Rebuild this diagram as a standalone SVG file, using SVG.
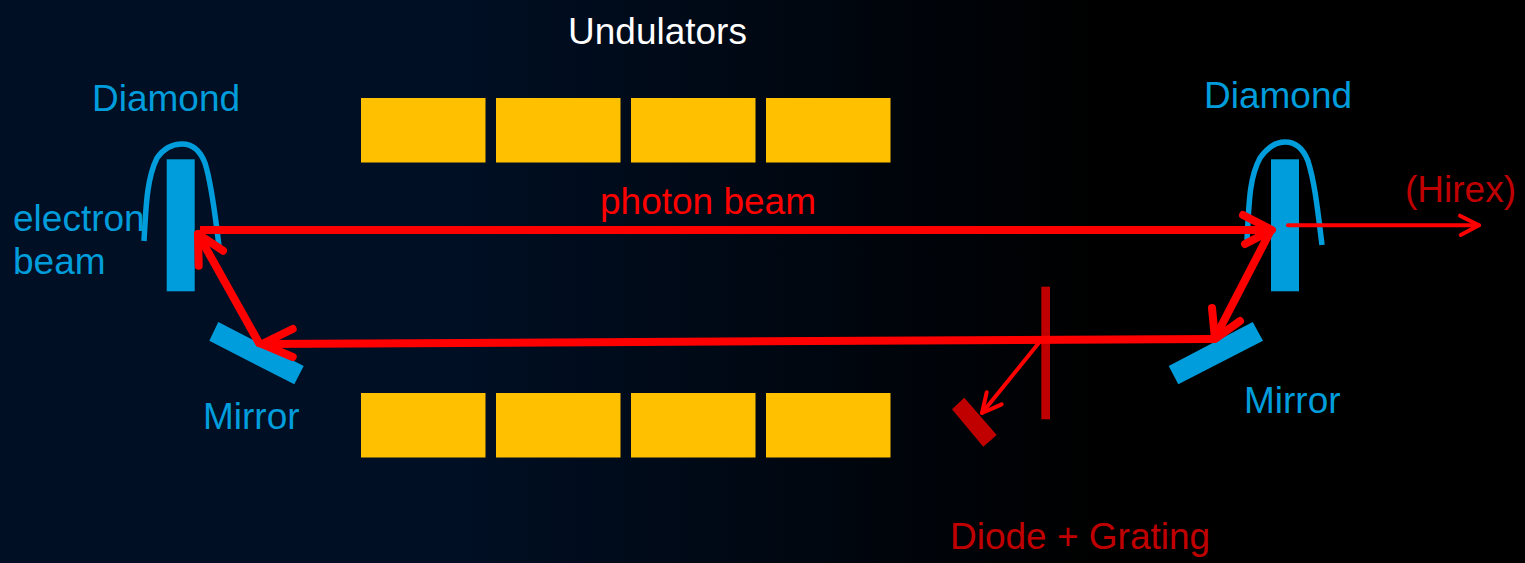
<svg xmlns="http://www.w3.org/2000/svg" width="1525" height="563" viewBox="0 0 1525 563">
<style>
text{font-family:"Liberation Sans",Arial,sans-serif;font-size:37px}
.blue{fill:#009ddc}
.white{fill:#ffffff}
.red{fill:#ff0000}
.dark{fill:#c00000}
.und{fill:#ffc000}
.curve{fill:none;stroke:#009ddc;stroke-width:5.5}
.beam{fill:none;stroke:#ff0000;stroke-linecap:round;stroke-linejoin:round}
.thick{stroke-width:8}
.thin{stroke-width:4}
</style>
<defs>
<linearGradient id="bg" x1="0" y1="0" x2="1" y2="0">
<stop offset="0" stop-color="#000f24"/>
<stop offset="0.3" stop-color="#000f24"/>
<stop offset="0.72" stop-color="#000000"/>
<stop offset="1" stop-color="#000000"/>
</linearGradient>
</defs>
<rect width="1525" height="563" fill="url(#bg)"/>
<g id="undulators">
<text class="white" x="568" y="44">Undulators</text>
<rect class="und" x="361" y="98" width="124.500" height="64.500"/>
<rect class="und" x="496" y="98" width="124.500" height="64.500"/>
<rect class="und" x="631" y="98" width="124.500" height="64.500"/>
<rect class="und" x="766" y="98" width="124.500" height="64.500"/>
<rect class="und" x="361" y="393" width="124.500" height="64.500"/>
<rect class="und" x="496" y="393" width="124.500" height="64.500"/>
<rect class="und" x="631" y="393" width="124.500" height="64.500"/>
<rect class="und" x="766" y="393" width="124.500" height="64.500"/>
</g>
<g id="diamond-left">
<text class="blue" x="92" y="111">Diamond</text>
<rect class="blue" x="166.700" y="159.300" width="28" height="132"/>
<path class="curve" d="M144 241C146 205 147 178 157 158C164 148 172 144 182 144C192 144 200 150 205 163C212 185 215 215 219 246"/>
</g>
<g id="electron-beam">
<text class="blue" x="13" y="231">electron</text>
<text class="blue" x="13" y="274">beam</text>
</g>
<g id="diamond-right">
<text class="blue" x="1204" y="108">Diamond</text>
<rect class="blue" x="1271" y="159.300" width="28" height="132"/>
<path class="curve" d="M1247 240C1249 205 1249 178 1260 158C1267 148 1275 142 1285 142C1295 142 1303 148 1308 161C1315 183 1318 213 1322 245"/>
</g>
<g id="mirror-left">
<polygon class="blue" points="218.300,322 303.700,366 294.300,384.300 209.300,340.700"/>
<text class="blue" x="203" y="429">Mirror</text>
</g>
<g id="mirror-right">
<polygon class="blue" points="1252.700,322 1263,340.700 1178.300,384.300 1168.700,366"/>
<text class="blue" x="1244" y="413">Mirror</text>
</g>
<g id="grating">
<rect class="dark" x="1041.300" y="286.700" width="8.700" height="132.600"/>
</g>
<g id="diode">
<polygon class="dark" points="964.300,397.700 996.700,435 983.300,446.700 952,409.300"/>
<text class="dark" x="950" y="549">Diode + Grating</text>
</g>
<g id="connectors">
<path class="beam thick" style="stroke-linecap:butt" d="M200 230H1272"/>
<path class="beam thick" d="M1243 215L1272 230L1245 244"/>
<path class="beam thick" d="M1270 232L1215 338"/>
<path class="beam thick" d="M1212 308L1215 339L1240 321"/>
<path class="beam thick" d="M1213 339L262 344"/>
<path class="beam thick" d="M292.700 329L262 344L292.700 357"/>
<path class="beam thick" d="M259 343L198 234"/>
<path class="beam thick" d="M198.700 265.700L198 234L223 250.700"/>
<path class="beam thin" d="M1288 225.300H1479"/>
<path class="beam thin" d="M1460 215.700L1479 225.300L1460.700 235"/>
<path class="beam thin" d="M1042 339L982 413"/>
<path class="beam thin" d="M986.700 392.300L982 413L1001.700 404.300"/>
</g>
<text class="red" x="600" y="214">photon beam</text>
<text class="dark" x="1405" y="202">(Hirex)</text>
</svg>
